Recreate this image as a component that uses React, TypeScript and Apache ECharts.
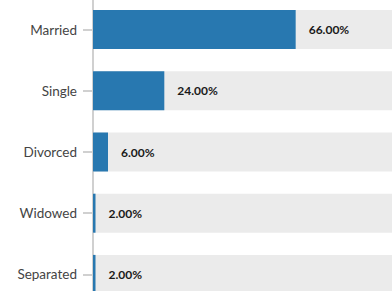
import React, { useEffect, useRef } from "react";
import * as echarts from "echarts";

const categories = ["Married", "Single", "Divorced", "Widowed", "Separated"];
const values = [66, 24, 6, 2, 2];

export default function App() {
  const ref = useRef<HTMLDivElement>(null);
  useEffect(() => {
    document.body.style.margin = "0";
    const chart = echarts.init(ref.current!, null, { renderer: "svg" });
    chart.setOption({
      animation: false,
      grid: { left: 93, right: 0, top: 0, bottom: 0 },
      xAxis: {
        type: "value",
        min: 1.2,
        max: 96.8,
        show: false,
      },
      yAxis: {
        type: "category",
        inverse: true,
        data: categories,
        axisLine: { show: true, lineStyle: { color: "#d0d0d0", width: 2 } },
        axisTick: { show: true, length: 10, alignWithLabel: true, lineStyle: { color: "#d0d0d0", width: 2 } },
        axisLabel: { margin: 16, color: "#444", fontSize: 13.5, fontFamily: "Lato" },
      },
      series: [
        {
          type: "bar",
          data: values,
          barWidth: 39,
          showBackground: true,
          backgroundStyle: { color: "#ebebeb" },
          itemStyle: { color: "#2878b0" },
          label: {
            show: true,
            position: "right",
            distance: 13,
            color: "#1a1a1a",
            fontSize: 12,
            fontWeight: "bold",
            fontFamily: "Lato",
            formatter: (p: any) => p.value.toFixed(2) + "%",
          },
        },
      ],
    });
    return () => chart.dispose();
  }, []);
  return (
    <div style={{ position: "fixed", left: 0, top: 0, width: 392, height: 291, overflow: "hidden", background: "#fff" }}>
      <div ref={ref} style={{ position: "absolute", left: 0, top: -1, width: 392, height: 306 }} />
    </div>
  );
}
